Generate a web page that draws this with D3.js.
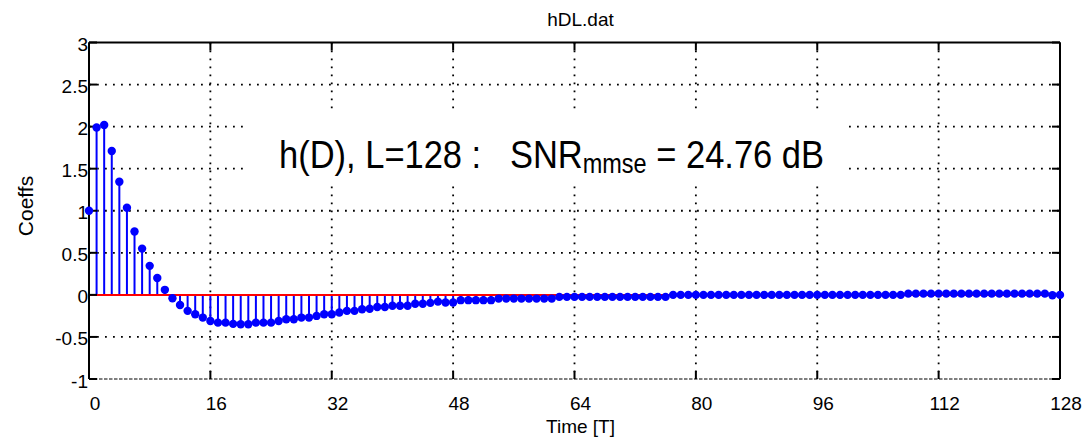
<!DOCTYPE html>
<html>
<head>
<meta charset="utf-8">
<script src="https://cdn.jsdelivr.net/npm/d3@7"></script>
<style>
  body { margin: 0; background: #fff; }
  text { font-family: "Liberation Sans", Arial, sans-serif; fill: #000; }
</style>
</head>
<body>
<div id="chart"></div>
<script>
// ----------------------
// hDL.dat stem plot
// ----------------------

// Coefficients h(n), n = 0..128
const coeffs = [
    1.00, 1.99, 2.02, 1.71, 1.345, 1.036, 0.754, 0.55, 0.345, 0.20,
    0.06, -0.04, -0.12, -0.19, -0.23, -0.27, -0.31, -0.33, -0.33, -0.345,
    -0.35, -0.35, -0.33, -0.33, -0.33, -0.31, -0.29, -0.29, -0.27, -0.27,
    -0.25, -0.23, -0.23, -0.21, -0.19, -0.19, -0.17, -0.165, -0.145, -0.145,
    -0.13, -0.13, -0.13, -0.105, -0.105, -0.095, -0.08, -0.09, -0.09, -0.063,
    -0.063, -0.063, -0.063, -0.063, -0.044, -0.044, -0.044, -0.044, -0.044, -0.044,
    -0.044, -0.044, -0.024, -0.024, -0.024, -0.024, -0.024, -0.024, -0.024, -0.024,
    -0.024, -0.024, -0.024, -0.024, -0.024, -0.024, -0.024, 0.0, 0.0, 0.0,
    0.0, 0.0, 0.0, 0.0, 0.0, 0.0, 0.0, 0.0, 0.0, 0.0,
    0.0, 0.0, 0.0, 0.0, 0.0, 0.0, 0.0, 0.0, 0.0, 0.0,
    0.0, 0.0, 0.0, 0.0, 0.0, 0.0, 0.0, 0.0, 0.015, 0.015,
    0.015, 0.015, 0.015, 0.015, 0.015, 0.015, 0.015, 0.015, 0.015, 0.015,
    0.015, 0.015, 0.015, 0.015, 0.015, 0.015, 0.015, -0.005, 0.0
];

const xTicks = [0, 16, 32, 48, 64, 80, 96, 112, 128];
const yTicks = [-1, -0.5, 0, 0.5, 1, 1.5, 2, 2.5, 3];

const titleText = "hDL.dat";
const xLabel = "Time [T]";
const yLabel = "Coeffs";

const width = 1087;
const height = 444;
const margin = { top: 42.5, right: 27, bottom: 65, left: 89 };
const innerW = width - margin.left - margin.right;
const innerH = height - margin.top - margin.bottom;

const svg = d3.select("#chart")
    .append("svg")
    .attr("width", width)
    .attr("height", height);

const g = svg.append("g")
    .attr("transform", `translate(${margin.left},${margin.top})`);

const x = d3.scaleLinear().domain([0, 128]).range([0, innerW]);
const y = d3.scaleLinear().domain([-1, 3]).range([innerH, 0]);

// Grid (dotted)
const grid = g.append("g");
grid.selectAll("line.gx")
    .data(xTicks.slice(1, -1))
    .enter()
    .append("line")
    .attr("x1", d => x(d)).attr("x2", d => x(d))
    .attr("y1", 0).attr("y2", innerH)
    .attr("stroke", "#000")
    .attr("stroke-width", 1.8)
    .attr("stroke-dasharray", "1.8,6.2");

grid.selectAll("line.gy")
    .data(yTicks.slice(1, -1))
    .enter()
    .append("line")
    .attr("x1", 0).attr("x2", innerW)
    .attr("y1", d => y(d)).attr("y2", d => y(d))
    .attr("stroke", "#000")
    .attr("stroke-width", 1.8)
    .attr("stroke-dasharray", "1.8,6.2");

// Annotation background hides the grid behind the text
g.append("rect")
    .attr("x", 243 - margin.left)
    .attr("y", 112 - margin.top)
    .attr("width", 848 - 243)
    .attr("height", 185 - 112)
    .attr("fill", "#fff");

// Stems
g.selectAll("line.stem")
    .data(coeffs)
    .enter()
    .append("line")
    .attr("x1", (d, i) => x(i)).attr("x2", (d, i) => x(i))
    .attr("y1", y(0)).attr("y2", d => y(d))
    .attr("stroke", "#0000ff")
    .attr("stroke-width", 2);

// Baseline
g.append("line")
    .attr("x1", 0).attr("x2", innerW)
    .attr("y1", y(0)).attr("y2", y(0))
    .attr("stroke", "#ff0000")
    .attr("stroke-width", 2);

// Box
g.append("line").attr("x1", 0).attr("x2", innerW).attr("y1", 0).attr("y2", 0)
    .attr("stroke", "#000").attr("stroke-width", 2);
g.append("line").attr("x1", 0).attr("x2", 0).attr("y1", 0).attr("y2", innerH)
    .attr("stroke", "#000").attr("stroke-width", 2);
g.append("line").attr("x1", innerW).attr("x2", innerW).attr("y1", 0).attr("y2", innerH)
    .attr("stroke", "#000").attr("stroke-width", 2);
g.append("line").attr("x1", 0).attr("x2", innerW).attr("y1", innerH).attr("y2", innerH)
    .attr("stroke", "#000").attr("stroke-width", 1.2)
    .attr("stroke-dasharray", "3.5,1.5");

// Inward ticks on all four sides
const tickLen = 8;
xTicks.forEach(t => {
    g.append("line").attr("x1", x(t)).attr("x2", x(t)).attr("y1", 0).attr("y2", tickLen)
        .attr("stroke", "#000").attr("stroke-width", 2);
    g.append("line").attr("x1", x(t)).attr("x2", x(t)).attr("y1", innerH).attr("y2", innerH - tickLen)
        .attr("stroke", "#000").attr("stroke-width", 2);
});
yTicks.forEach(t => {
    g.append("line").attr("x1", 0).attr("x2", tickLen).attr("y1", y(t)).attr("y2", y(t))
        .attr("stroke", "#000").attr("stroke-width", 2);
    g.append("line").attr("x1", innerW).attr("x2", innerW - tickLen).attr("y1", y(t)).attr("y2", y(t))
        .attr("stroke", "#000").attr("stroke-width", 2);
});

// Markers
g.selectAll("circle")
    .data(coeffs)
    .enter()
    .append("circle")
    .attr("cx", (d, i) => x(i))
    .attr("cy", d => y(d))
    .attr("r", 4.2)
    .attr("fill", "#0000ff");

// Tick labels
g.selectAll("text.xt")
    .data(xTicks)
    .enter()
    .append("text")
    .attr("x", d => x(d) + 6)
    .attr("y", innerH + 31)
    .attr("text-anchor", "middle")
    .attr("font-size", "19px")
    .text(d => d);

g.selectAll("text.yt")
    .data(yTicks)
    .enter()
    .append("text")
    .attr("x", -1)
    .attr("y", d => y(d) + 8.5)
    .attr("text-anchor", "end")
    .attr("font-size", "19px")
    .text(d => d);

// Title and axis labels
svg.append("text")
    .attr("x", margin.left + innerW / 2 + 6)
    .attr("y", 26)
    .attr("text-anchor", "middle")
    .attr("font-size", "19px")
    .text(titleText);

svg.append("text")
    .attr("x", margin.left + innerW / 2 + 6)
    .attr("y", 433)
    .attr("text-anchor", "middle")
    .attr("font-size", "19px")
    .text(xLabel);

svg.append("text")
    .attr("transform", "translate(33,206) rotate(-90)")
    .attr("text-anchor", "middle")
    .attr("font-size", "21px")
    .text(yLabel);

// Annotation (glyphs in the reference are a little taller than wide)
const note = svg.append("text")
    .attr("transform", "translate(279,168) scale(1,1.15)")
    .attr("font-size", "34.5px");
note.append("tspan").text("h(D), L=128 :\u00a0\u00a0\u00a0SNR");
note.append("tspan").attr("font-size", "23.5px").attr("dy", 4).text("mmse");
note.append("tspan").attr("dy", -4).text(" = 24.76 dB");
</script>
</body>
</html>
